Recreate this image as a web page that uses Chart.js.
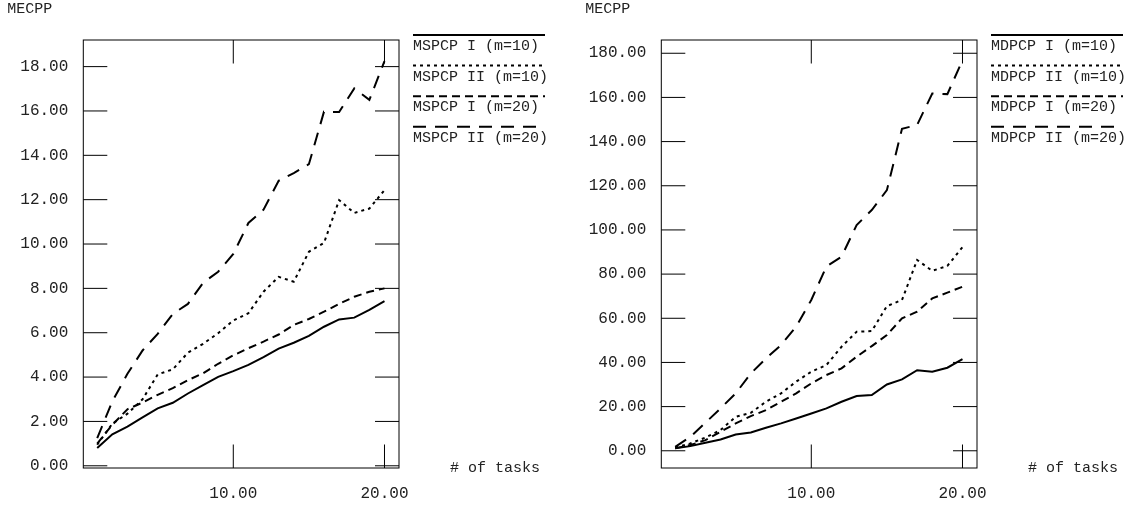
<!DOCTYPE html>
<html>
<head>
<meta charset="utf-8">
<script src="https://cdn.jsdelivr.net/npm/chart.js@4/dist/chart.umd.min.js"></script>
<style>
  html, body { margin: 0; padding: 0; background: #fff; }
  body { width: 1141px; height: 506px; position: relative; overflow: hidden; }
  #c1 { position: absolute; left: 0; top: 0; }
  #c2 { position: absolute; left: 578px; top: 0; }
</style>
</head>
<body>
<canvas id="c1" width="578" height="506"></canvas>
<canvas id="c2" width="563" height="506"></canvas>
<script>
// ---------- data ----------
const tasks = [1, 2, 3, 4, 5, 6, 7, 8, 9, 10, 11, 12, 13, 14, 15, 16, 17, 18, 19, 20];
const xTicks = [10, 20];

// left chart (MSPCP)
const leftLabels = ["MSPCP I (m=10)", "MSPCP II (m=10)", "MSPCP I (m=20)", "MSPCP II (m=20)"];
const mspcpI_m10  = [0.80, 1.42, 1.77, 2.18, 2.59, 2.84, 3.26, 3.64, 4.01, 4.27, 4.55, 4.90, 5.28, 5.55, 5.86, 6.27, 6.60, 6.68, 7.03, 7.42];
const mspcpII_m10 = [0.95, 1.90, 2.35, 3.00, 4.12, 4.35, 5.10, 5.50, 5.98, 6.55, 6.88, 7.85, 8.52, 8.30, 9.65, 10.05, 11.98, 11.40, 11.60, 12.43];
const mspcpI_m20  = [1.00, 1.85, 2.55, 2.85, 3.20, 3.50, 3.86, 4.17, 4.60, 4.98, 5.30, 5.60, 5.92, 6.35, 6.62, 6.95, 7.30, 7.62, 7.85, 8.00];
const mspcpII_m20 = [1.25, 2.90, 4.15, 5.20, 5.95, 6.85, 7.30, 8.25, 8.75, 9.55, 10.95, 11.55, 12.85, 13.20, 13.60, 15.97, 15.95, 17.02, 16.50, 18.25];
const leftYTicks = [0, 2, 4, 6, 8, 10, 12, 14, 16, 18];

// right chart (MDPCP)
const rightLabels = ["MDPCP I (m=10)", "MDPCP II (m=10)", "MDPCP I (m=20)", "MDPCP II (m=20)"];
const mdpcpI_m10  = [1.1, 2.1, 3.6, 5.1, 7.4, 8.3, 10.4, 12.4, 14.6, 16.9, 19.2, 22.2, 24.8, 25.2, 30.0, 32.3, 36.5, 35.8, 37.6, 41.5];
const mdpcpII_m10 = [1.5, 3.3, 6.0, 9.4, 15.4, 17.2, 22.2, 26.0, 31.3, 35.8, 38.8, 47.1, 53.9, 54.2, 65.5, 68.3, 86.4, 81.5, 83.7, 92.2];
const mdpcpI_m20  = [1.1, 2.6, 4.8, 8.6, 12.4, 15.7, 18.4, 22.2, 26.0, 30.5, 34.3, 37.3, 42.6, 47.4, 52.4, 60.0, 63.0, 69.0, 71.6, 74.3];
const mdpcpII_m20 = [1.8, 6.3, 12.7, 19.2, 26.0, 35.0, 41.8, 47.9, 56.2, 68.3, 83.4, 87.9, 102.2, 109.0, 118.0, 145.8, 147.5, 161.8, 161.5, 176.8];
const rightYTicks = [0, 20, 40, 60, 80, 100, 120, 140, 160, 180];

const yTitle = "MECPP";
const xTitle = "# of tasks";

// ---------- styling ----------
const FONT = '"Liberation Mono", "Courier New", monospace';
const dashes = [[], [3, 4], [8, 5], [13, 9]];

function makeDatasets(labels, series) {
  return series.map((vals, i) => ({
    label: labels[i],
    data: tasks.map((t, k) => ({ x: t, y: vals[k] })),
    borderColor: '#000',
    borderWidth: 2,
    borderDash: dashes[i],
    pointRadius: 0,
    tension: 0,
    fill: false
  }));
}

const framePlugin = {
  id: 'frame',
  afterDraw(chart) {
    const { ctx, chartArea: a, scales } = chart;
    const x = scales.x, y = scales.y;
    ctx.save();
    ctx.strokeStyle = '#000';
    ctx.lineWidth = 1;
    ctx.setLineDash([]);
    const line = (x1, y1, x2, y2) => { ctx.beginPath(); ctx.moveTo(x1, y1); ctx.lineTo(x2, y2); ctx.stroke(); };
    ctx.strokeRect(a.left, a.top, a.right - a.left, a.bottom - a.top);
    y.ticks.forEach(t => {
      const py = y.getPixelForValue(t.value);
      line(a.left, py, a.left + 24, py);
      line(a.right - 24, py, a.right, py);
    });
    x.ticks.forEach(t => {
      const px = x.getPixelForValue(t.value);
      line(px, a.top, px, a.top + 23.5);
      line(px, a.bottom - 23.5, px, a.bottom);
    });
    // legend
    ctx.fillStyle = '#222';
    ctx.font = '15px ' + FONT;
    ctx.textBaseline = 'middle';
    ctx.textAlign = 'left';
    chart.data.datasets.forEach((ds, i) => {
      const ly = a.top - 5 + i * 30.6;
      const lx = a.right + 14;
      ctx.lineWidth = 2;
      ctx.setLineDash(ds.borderDash);
      line(lx, ly, lx + 132, ly);
      ctx.setLineDash([]);
      ctx.fillText(ds.label, lx, ly + 11);
    });
    // axis titles
    ctx.fillText(yTitle, a.left - 76, 9);
    ctx.fillText(xTitle, a.right + 51, a.bottom);
    ctx.restore();
  }
};

function makeChart(id, labels, series, yMin, yMax, yTickVals, rightPad) {
  return new Chart(document.getElementById(id), {
    type: 'line',
    data: { datasets: makeDatasets(labels, series) },
    options: {
      responsive: false,
      animation: false,
      layout: { padding: { left: 0, right: rightPad, top: 40, bottom: 0 } },
      plugins: { legend: { display: false }, tooltip: { enabled: false }, title: { display: false } },
      scales: {
        x: {
          type: 'linear',
          min: 0.08,
          max: 20.96,
          grid: { display: false, drawTicks: false },
          border: { display: false },
          afterBuildTicks: s => { s.ticks = xTicks.map(v => ({ value: v })); },
          afterFit: s => { s.height = 38; },
          ticks: {
            autoSkip: false, maxRotation: 0, padding: 16,
            color: '#222', font: { family: FONT, size: 16 },
            callback: v => Number(v).toFixed(2)
          }
        },
        y: {
          type: 'linear',
          min: yMin,
          max: yMax,
          grid: { display: false, drawTicks: false },
          border: { display: false },
          afterBuildTicks: s => { s.ticks = yTickVals.map(v => ({ value: v })); },
          afterFit: s => { s.width = 83.3; },
          ticks: {
            autoSkip: false, padding: 15,
            color: '#222', font: { family: FONT, size: 16 },
            callback: v => Number(v).toFixed(2)
          }
        }
      }
    },
    plugins: [framePlugin]
  });
}

makeChart('c1', leftLabels, [mspcpI_m10, mspcpII_m10, mspcpI_m20, mspcpII_m20], -0.1, 19.2, leftYTicks, 179);
makeChart('c2', rightLabels, [mdpcpI_m10, mdpcpII_m10, mdpcpI_m20, mdpcpII_m20], -7.8, 186, rightYTicks, 164);
</script>
</body>
</html>
